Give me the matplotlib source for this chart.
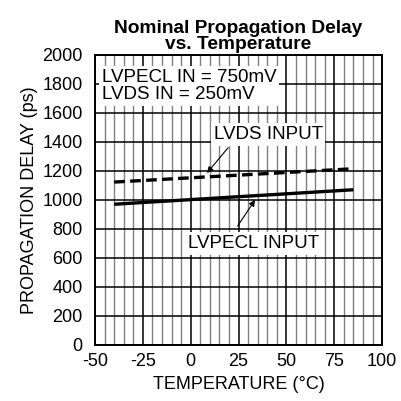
import matplotlib
matplotlib.use('Agg')
import matplotlib.pyplot as plt
import numpy as np

# 数据
temp = [-40, 85]
lvpecl_delay = [970, 1070]
lvds_delay = [1123, 1215]

x_ticks = [-50, -25, 0, 25, 50, 75, 100]
y_ticks = [0, 200, 400, 600, 800, 1000, 1200, 1400, 1600, 1800, 2000]

plt.rcParams['font.family'] = ['Liberation Sans', 'DejaVu Sans']
plt.rcParams['axes.unicode_minus'] = False

fig = plt.figure(figsize=(4.01, 4.01), dpi=100)
ax = fig.add_axes([0.237, 0.14, 0.716, 0.723])

# 网格: 每5度细灰线, 每25度黑线
for x in np.arange(-50, 101, 5):
    if x % 25 == 0:
        ax.axvline(x, color='black', lw=1.1, zorder=1)
    else:
        ax.axvline(x, color='#808080', lw=1.0, zorder=1)
for y in y_ticks:
    ax.axhline(y, color='black', lw=1.1, zorder=1)

ax.plot(temp, lvpecl_delay, color='black', lw=2.4, zorder=3, solid_capstyle='butt')
ax.plot(temp, lvds_delay, color='black', lw=2.4, ls=(0, (3.2, 1.6)), zorder=3)

ax.set_xlim(-50, 100)
ax.set_ylim(0, 2000)
ax.set_xticks(x_ticks)
ax.set_yticks(y_ticks)
ax.tick_params(axis='x', length=0, labelsize=13, pad=6)
ax.tick_params(axis='y', length=0, labelsize=13, pad=9)
for s in ax.spines.values():
    s.set_linewidth(1.4)

ax.set_xlabel('TEMPERATURE (°C)', fontsize=13, labelpad=4)
ax.set_ylabel('PROPAGATION DELAY (ps)', fontsize=13, labelpad=3)
ax.set_title('Nominal Propagation Delay\nvs. Temperature', fontsize=13.8, fontweight='bold',
             linespacing=0.98, pad=4)

box = dict(facecolor='white', edgecolor='none', pad=2)
ax.text(-46.5, 1785, 'LVPECL IN = 750mV\nLVDS IN = 250mV', fontsize=13.5, va='center', ha='left',
        linespacing=1.05, bbox=box, zorder=4)
ax.text(40.4, 1450, 'LVDS INPUT', fontsize=13.5, va='center', ha='center', bbox=box, zorder=4)
ax.text(32.8, 700, 'LVPECL INPUT', fontsize=13.5, va='center', ha='center', bbox=box, zorder=4)

ax.annotate('', xy=(8.5, 1185), xytext=(19.5, 1360),
            arrowprops=dict(arrowstyle='-|>', color='black', lw=0.8, mutation_scale=9,
                            shrinkA=0, shrinkB=0), zorder=5)
ax.annotate('', xy=(33.6, 1000), xytext=(24.5, 820),
            arrowprops=dict(arrowstyle='-|>', color='black', lw=0.8, mutation_scale=9,
                            shrinkA=0, shrinkB=0), zorder=5)

plt.savefig('out.png', dpi=100)
